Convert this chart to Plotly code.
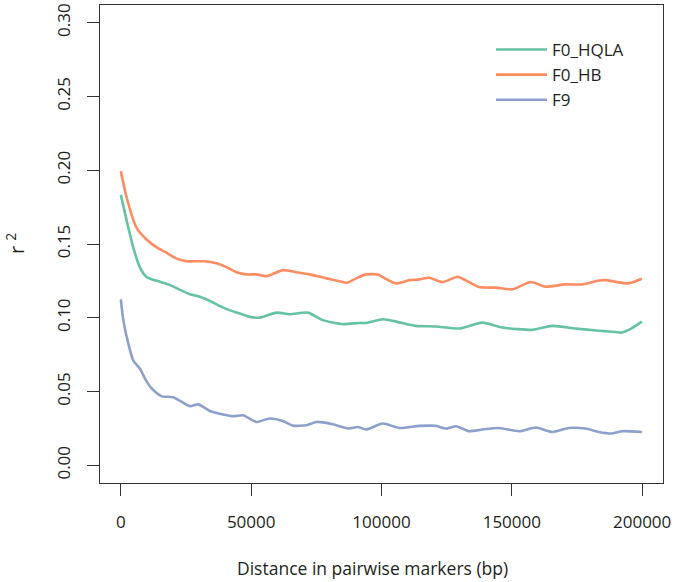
import plotly.graph_objects as go

# ---- data ----
hqla_x = [0, 2300, 4800, 7400, 9950, 15000, 18900, 26500, 30300, 34200, 39300, 44400, 49500, 53300,
          59700, 64800, 71800, 77500, 85200, 91600, 94100, 100500, 105600, 113200, 120900, 129800,
          138700, 146400, 157900, 165500, 174500, 183400, 187200, 192300, 196100, 199900]
hqla_y = [0.1833, 0.1653, 0.1473, 0.1338, 0.1275, 0.1244, 0.1221, 0.1159, 0.1143, 0.1114, 0.1069,
          0.1035, 0.1006, 0.1001, 0.1035, 0.1024, 0.1035, 0.0984, 0.0957, 0.0965, 0.0965, 0.0990,
          0.0974, 0.0945, 0.0941, 0.0927, 0.0967, 0.0934, 0.0918, 0.0945, 0.0927, 0.0912, 0.0907,
          0.0900, 0.0930, 0.0974]

hb_x = [0, 2300, 6100, 9950, 13800, 16950, 21400, 25250, 31600, 36700, 40550, 44400, 48200, 52000,
        55900, 62200, 67300, 72400, 78800, 83900, 86700, 91600, 94100, 98600, 100500, 105600, 110700,
        114500, 118300, 123400, 129200, 132400, 137500, 143900, 150200, 157300, 163000, 170600,
        177000, 183400, 185900, 194800, 199900]
hb_y = [0.1994, 0.1810, 0.1607, 0.1529, 0.1477, 0.1446, 0.1401, 0.1383, 0.1383, 0.1370, 0.1343,
        0.1309, 0.1294, 0.1294, 0.1282, 0.1323, 0.1309, 0.1294, 0.1267, 0.1248, 0.1237, 0.1278,
        0.1294, 0.1294, 0.1275, 0.1233, 0.1255, 0.1260, 0.1271, 0.1242, 0.1278, 0.1253, 0.1208,
        0.1204, 0.1193, 0.1242, 0.1210, 0.1226, 0.1226, 0.1253, 0.1255, 0.1233, 0.1264]

f9_x = [0, 1000, 2900, 4800, 7400, 9300, 11900, 15700, 20100, 26500, 29700, 34200, 39300, 43100,
        46900, 52000, 57100, 62200, 66000, 71200, 75000, 81300, 87100, 90900, 94100, 100500, 106900,
        114500, 120900, 124700, 128600, 133700, 138700, 145100, 152800, 159200, 165500, 171900,
        178300, 183400, 188500, 192300, 199900]
f9_y = [0.1125, 0.0979, 0.0822, 0.0709, 0.0653, 0.0586, 0.0519, 0.0467, 0.0462, 0.0400, 0.0413,
        0.0368, 0.0344, 0.0332, 0.0339, 0.0294, 0.0317, 0.0300, 0.0269, 0.0271, 0.0294, 0.0278,
        0.0249, 0.0260, 0.0243, 0.0283, 0.0253, 0.0267, 0.0267, 0.0249, 0.0265, 0.0231, 0.0243,
        0.0253, 0.0231, 0.0256, 0.0226, 0.0253, 0.0249, 0.0226, 0.0216, 0.0231, 0.0226]

series_names = ["F0_HQLA", "F0_HB", "F9"]
series_colors = ["#66C2A5", "#FC8D62", "#8DA0CB"]

x_ticks = [0, 50000, 100000, 150000, 200000]
x_tick_labels = ["0", "50000", "100000", "150000", "200000"]
y_ticks = [0.00, 0.05, 0.10, 0.15, 0.20, 0.25, 0.30]
y_tick_labels = ["0.00", "0.05", "0.10", "0.15", "0.20", "0.25", "0.30"]

FONT = "Open Sans"
TXT = "#231f20"
AX = "#333333"

fig = go.Figure()
for name, col, xs, ys in zip(series_names, series_colors,
                             [hqla_x, hb_x, f9_x], [hqla_y, hb_y, f9_y]):
    fig.add_trace(go.Scatter(x=xs, y=ys, mode="lines", name=name,
                             line=dict(color=col, width=2.6, shape="spline", smoothing=0.6)))

W, H = 678, 582
L, R, T, B = 100, 15, 3, 99
pw = W - L - R
ph = H - T - B
fig.update_layout(
    width=W, height=H,
    margin=dict(l=L, r=R, t=T, b=B),
    plot_bgcolor="white", paper_bgcolor="white",
    font=dict(family=FONT, size=17, color=TXT),
    showlegend=True,
    legend=dict(x=(491 - L) / pw, y=0.9435, xanchor="left", yanchor="top",
                bgcolor="rgba(0,0,0,0)", font=dict(family=FONT, size=17, color=TXT),
                tracegroupgap=0, itemwidth=51),
    xaxis=dict(range=[-8000, 208000], tickvals=x_ticks, ticktext=x_tick_labels,
               showgrid=False, zeroline=False, showline=True, mirror=True,
               linecolor=AX, linewidth=1.3, ticks="outside", ticklen=12,
               tickcolor=AX, tickwidth=1.3, ticklabelstandoff=11,
               tickfont=dict(family=FONT, size=17, color=TXT)),
    yaxis=dict(range=[-0.012, 0.312], tickvals=y_ticks, ticktext=y_tick_labels,
               showgrid=False, zeroline=False, showline=True, mirror=True,
               linecolor=AX, linewidth=1.3, ticks="outside", ticklen=12,
               tickcolor=AX, tickwidth=1.3, tickangle=-90, ticklabelstandoff=10,
               tickfont=dict(family=FONT, size=17, color=TXT)),
)

fig.add_annotation(text="Distance in pairwise markers (bp)", xref="paper", yref="paper",
                   x=(372 - L) / pw, y=-(568 - (H - B)) / ph, xanchor="center", yanchor="middle",
                   showarrow=False, font=dict(family=FONT, size=17.5, color=TXT))
fig.add_annotation(text="r <sup>2</sup>", xref="paper", yref="paper",
                   x=(15 - L) / pw, y=0.5, xanchor="center", yanchor="middle", textangle=-90,
                   showarrow=False, font=dict(family=FONT, size=20, color=TXT))

fig.write_html("out.html", config={"displayModeBar": False},
               post_script="document.body.style.margin='0';")
